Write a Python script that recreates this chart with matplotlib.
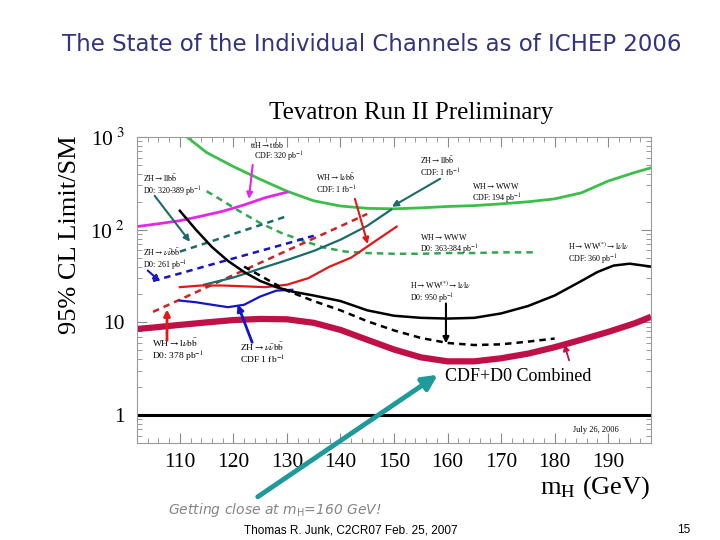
import numpy as np
import matplotlib
matplotlib.use('Agg')
import matplotlib.pyplot as plt
from matplotlib.ticker import MultipleLocator, LogLocator, NullFormatter

plt.rcParams['font.family'] = 'serif'
plt.rcParams['font.serif'] = ['Liberation Serif', 'DejaVu Serif']
plt.rcParams['mathtext.fontset'] = 'stix'

# Limits / SM

# CDF WH->WWW 194 pb-1 (green solid)
mh_cdf_whwww = [110, 115, 120, 125, 130, 135, 140, 145, 150, 155, 160, 165, 170, 175, 180, 185, 190, 195, 198]
lim_cdf_whwww = [1150, 680, 480, 350, 260, 205, 180, 170, 168, 172, 178, 182, 190, 200, 215, 250, 335, 415, 465]

# CDF ttH->ttbb 320 pb-1 (magenta)
mh_cdf_tth = [102, 106, 110, 114, 118, 122, 126, 130]
lim_cdf_tth = [108, 116, 125, 140, 158, 185, 222, 254]

# D0 WH->WWW 363-384 pb-1 (green dashed)
mh_d0_whwww = [115, 118, 121, 125, 129, 133, 137, 141, 145, 150, 155, 160, 165, 170, 176]
lim_d0_whwww = [260, 205, 160, 118, 92, 76, 64, 58, 56, 55, 55, 56, 56, 57, 57]

# D0 ZH->llbb 320-389 pb-1 (teal dashed)
mh_d0_zhllbb = [110, 115, 120, 125, 130]
lim_d0_zhllbb = [58, 72, 90, 112, 140]

# D0 ZH->vvbb 261 pb-1 (blue dashed)
mh_d0_zhvvbb = [105, 110, 115, 120, 125, 130, 135]
lim_d0_zhvvbb = [28, 33.7, 40.7, 49, 59, 71, 86]

# D0 WH->lvbb 378 pb-1 (red dashed)
mh_d0_whlvbb = [105, 110, 115, 120, 125, 130, 135, 140, 145]
lim_d0_whlvbb = [13, 17.6, 23.9, 32.4, 43.9, 59.4, 80.5, 109, 148]

# CDF ZH->llbb 1 fb-1 (teal solid)
mh_cdf_zhllbb = [114.5, 120, 125, 130, 135, 140, 145, 149.5]
lim_cdf_zhllbb = [25.5, 30.5, 38, 47, 59, 78, 110, 165]

# CDF WH->lvbb 1 fb-1 (red solid)
mh_cdf_whlvbb = [110, 114, 118, 122, 126, 130, 134, 138, 142, 146, 150.5]
lim_cdf_whlvbb = [24, 25, 25, 24.5, 24, 25.5, 30, 40, 50, 72, 108]

# CDF ZH->vvbb 1 fb-1 (blue solid)
mh_cdf_zhvvbb = [110, 113, 116, 119, 122, 125, 128, 131]
lim_cdf_zhvvbb = [17.2, 16.5, 15.5, 14.6, 15.5, 19, 22, 22.5]

# CDF H->WW->lvlv 360 pb-1 (black solid)
mh_cdf_hww = [110, 113, 116, 119, 122, 125, 128, 131, 135, 140, 145, 150, 155, 160, 165, 170, 175, 180, 185, 188, 191, 194, 198]
lim_cdf_hww = [160, 100, 65, 46, 35, 28, 24, 21.5, 19.5, 17, 13.5, 11.8, 11.2, 11, 11.2, 12.5, 15, 19.5, 28, 35, 41, 43, 40]

# D0 H->WW->lvlv 950 pb-1 (black dashed)
mh_d0_hww = [122, 125, 130, 135, 140, 145, 150, 155, 160, 165, 170, 175, 180]
lim_d0_hww = [40, 32, 22, 17, 13.5, 10.3, 8.2, 6.8, 6.0, 5.7, 5.8, 6.2, 6.7]

# CDF+D0 combined (thick crimson)
mh_comb = [102, 105, 110, 115, 120, 125, 130, 135, 140, 145, 150, 155, 160, 165, 170, 175, 180, 185, 190, 195, 198]
lim_comb = [8.5, 8.8, 9.4, 10, 10.6, 10.9, 10.8, 9.9, 8.3, 6.5, 5.1, 4.2, 3.8, 3.8, 4.1, 4.6, 5.4, 6.5, 7.9, 9.8, 11.5]

x_ticks = [110, 120, 130, 140, 150, 160, 170, 180, 190]
y_ticks = [1, 10, 100, 1000]
y_ticklabels = ['1', '10', r'10$^{\ 2}$', r'10$^{\ 3}$']

GREEN = '#3cbf4a'
GREEN_D = '#2fa84f'
MAGENTA = '#e626e6'
TEAL = '#1b6b6b'
BLUE = '#1414c8'
RED = '#e01818'
CRIMSON = '#bf1048'
DASH = (0, (2.6, 2.0))

fig = plt.figure(figsize=(7.2, 5.4), dpi=100)
fig.patch.set_facecolor('white')
ax = fig.add_axes([0.1903, 0.1796, 0.7139, 0.5667])

ax.set_yscale('log')
ax.set_xlim(102, 198)
ax.set_ylim(0.5, 1000)

ax.axhline(1, color='black', lw=2.2, zorder=2)

ax.plot(mh_cdf_whwww, lim_cdf_whwww, color=GREEN, lw=2.0)
ax.plot(mh_cdf_tth, lim_cdf_tth, color=MAGENTA, lw=2.0)
ax.plot(mh_d0_whwww, lim_d0_whwww, color=GREEN_D, lw=1.8, ls=DASH)
ax.plot(mh_d0_zhllbb, lim_d0_zhllbb, color=TEAL, lw=1.8, ls=DASH)
ax.plot(mh_d0_zhvvbb, lim_d0_zhvvbb, color=BLUE, lw=1.8, ls=DASH)
ax.plot(mh_d0_whlvbb, lim_d0_whlvbb, color='#d02020', lw=1.8, ls=DASH)
ax.plot(mh_cdf_zhllbb, lim_cdf_zhllbb, color=TEAL, lw=1.6)
ax.plot(mh_cdf_whlvbb, lim_cdf_whlvbb, color=RED, lw=1.6)
ax.plot(mh_cdf_zhvvbb, lim_cdf_zhvvbb, color=BLUE, lw=1.6)
ax.plot(mh_cdf_hww, lim_cdf_hww, color='black', lw=1.8)
ax.plot(mh_d0_hww, lim_d0_hww, color='black', lw=1.8, ls=DASH)
ax.plot(mh_comb, lim_comb, color=CRIMSON, lw=4.5, solid_capstyle='butt')

# axes styling
ax.set_xticks(x_ticks)
ax.xaxis.set_minor_locator(MultipleLocator(2))
ax.set_yticks(y_ticks)
ax.set_yticklabels(y_ticklabels)
ax.yaxis.set_minor_locator(LogLocator(base=10, subs=np.arange(2, 10)))
ax.yaxis.set_minor_formatter(NullFormatter())
ax.tick_params(which='both', direction='in', top=True, right=True, color='#8a8a8a')
ax.tick_params(which='major', length=7, width=0.8)
ax.tick_params(which='minor', length=3.5, width=0.6)
ax.tick_params(axis='x', labelsize=15.5, pad=7)
ax.tick_params(axis='y', labelsize=15.5, pad=9)
for s in ax.spines.values():
    s.set_color('#9a9a9a')
    s.set_linewidth(0.8)


def label(x, y, txt, size=5.8):
    ax.text(x, y, txt, fontsize=size, ha='left', va='center', linespacing=1.05)


def arrow(x0, y0, x1, y1, color, lw=1.5):
    ax.annotate('', xy=(x1, y1), xytext=(x0, y0),
                arrowprops=dict(arrowstyle='-|>', color=color, lw=lw,
                                mutation_scale=9, shrinkA=0, shrinkB=0))


label(123.1, 690, 'ttH$\\rightarrow$ttbb\n  CDF: 320 pb$^{-1}$')
arrow(123.6, 500, 122.9, 215, MAGENTA)

label(103.1, 297, 'ZH$\\rightarrow$ll$\\mathrm{b\\bar{b}}$\nD0: 320-389 pb$^{-1}$')
arrow(105.3, 232, 111.9, 74, TEAL)

label(103.1, 47.6, 'ZH$\\rightarrow\\nu\\bar{\\nu}$$\\mathrm{b\\bar{b}}$\nD0: 261 pb$^{-1}$')
arrow(104.0, 36.3, 106.3, 27.6, BLUE)

label(135.4, 312, 'WH$\\rightarrow$l$\\nu$$\\mathrm{b\\bar{b}}$\nCDF: 1 fb$^{-1}$')
arrow(142.7, 215, 145.1, 70, RED)

label(154.9, 476, 'ZH$\\rightarrow$ll$\\mathrm{b\\bar{b}}$\nCDF: 1 fb$^{-1}$')
arrow(158.6, 354, 149.6, 177, TEAL)

label(164.6, 244, 'WH$\\rightarrow$WWW\nCDF: 194 pb$^{-1}$')
label(154.9, 69, 'WH$\\rightarrow$WWW\nD0: 363-384 pb$^{-1}$')
label(182.5, 55, 'H$\\rightarrow$WW$^{(*)}$$\\rightarrow$l$\\nu$l$\\nu$\nCDF: 360 pb$^{-1}$')

label(153.0, 21, 'H$\\rightarrow$WW$^{(*)}$$\\rightarrow$l$\\nu$l$\\nu$\nD0: 950 pb$^{-1}$')
arrow(159.7, 16, 159.7, 5.95, 'black')

label(104.8, 5.0, 'WH$\\rightarrow$l$\\nu$$\\mathrm{b\\bar{b}}$\nD0: 378 pb$^{-1}$', size=6.8)
arrow(107.6, 6.4, 107.6, 13.8, RED, lw=2.0)

label(121.2, 4.64, 'ZH$\\rightarrow\\nu\\bar{\\nu}$$\\mathrm{b\\bar{b}}$\nCDF 1 fb$^{-1}$', size=6.8)
arrow(123.5, 6.1, 120.8, 15.6, BLUE, lw=2.0)

ax.text(159.5, 2.63, 'CDF+D0 Combined', fontsize=13, ha='left', va='center')
arrow(182.7, 3.9, 181.8, 5.8, CRIMSON, lw=1.3)

ax.text(183.5, 0.69, 'July 26, 2006', fontsize=6, ha='left', va='center')

# slide-level text
fig.text(0.517, 0.917, 'The State of the Individual Channels as of ICHEP 2006',
         family='DejaVu Sans', fontsize=16.5, color='#33337f', ha='center', va='center')
fig.text(0.5715, 0.791, 'Tevatron Run II Preliminary', fontsize=18,
         ha='center', va='center')
fig.text(0.097, 0.565, '95% CL Limit/SM', fontsize=19, rotation=90,
         ha='center', va='center')
fig.text(0.903, 0.097, r'm$_{\mathrm{H}}$ (GeV)', fontsize=19, ha='right', va='center')

fig.text(0.233, 0.056, r'Getting close at m$_{\mathsf{H}}$=160 GeV!', family='DejaVu Sans',
         math_fontfamily='dejavusans', fontsize=10, color='#858585', style='italic',
         ha='left', va='center')
fig.text(0.4875, 0.0185, 'Thomas R. Junk, C2CR07 Feb. 25, 2007', family='Liberation Sans',
         fontsize=8.5, ha='center', va='center')
fig.text(0.949, 0.0185, '15', family='Liberation Sans', fontsize=8.5, ha='center', va='center')

ax.annotate('', xy=(0.608, 0.306), xycoords='figure fraction',
            xytext=(0.358, 0.080), textcoords='figure fraction',
            arrowprops=dict(arrowstyle='-|>', color='#1f9a9a', lw=3.5,
                            mutation_scale=22, shrinkA=0, shrinkB=0))

fig.savefig('out.png', dpi=100, facecolor='white')
